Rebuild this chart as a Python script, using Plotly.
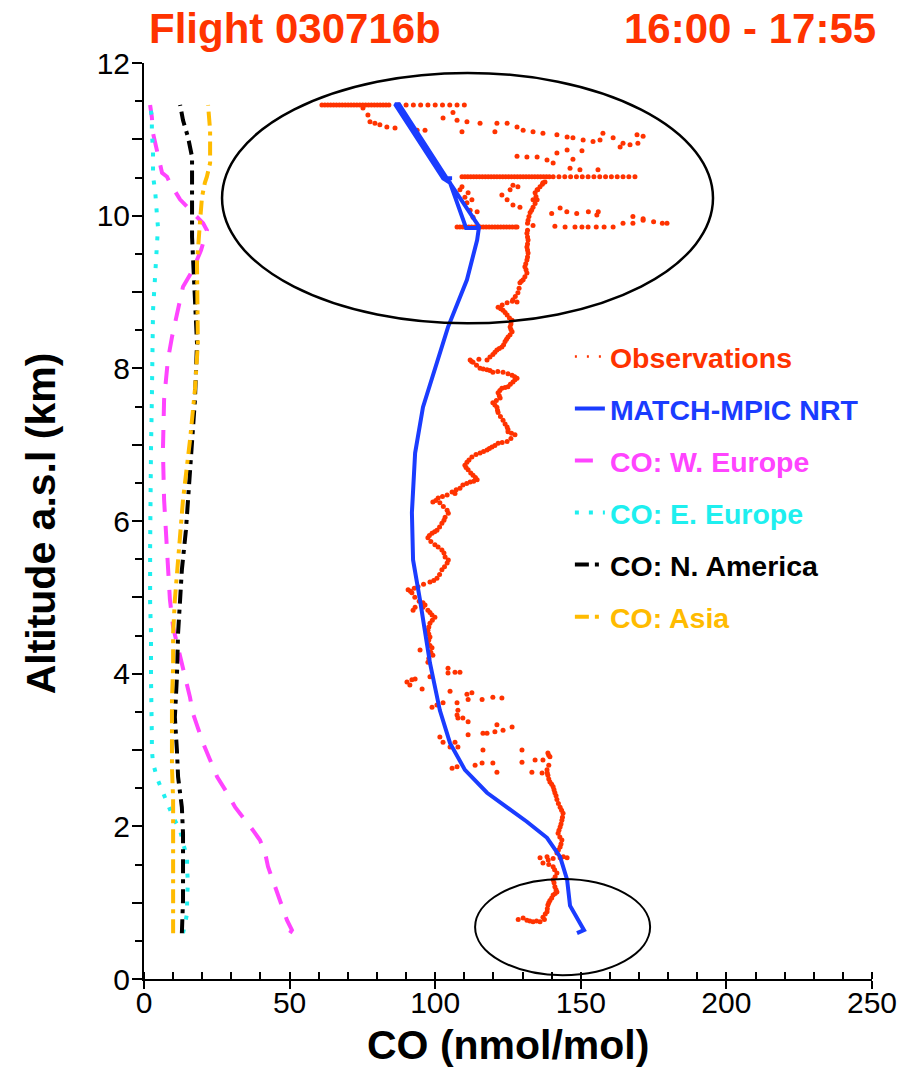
import plotly.graph_objects as go

# ---------------- data (CO in nmol/mol, altitude in km) ----------------
# observations
obs_low_co = [
    130.2, 131.5, 133.6, 136.0, 137.0, 138.4, 138.7, 139.4, 140.5, 141.8, 141.1, 140.5, 141.8, 140.5,
    137.0, 136.0, 138.4, 142.9, 145.3, 141.8, 142.9, 143.5, 142.2, 142.9, 143.5, 143.9, 142.9, 141.8,
    141.1, 140.5, 139.4, 138.7, 138.4, 139.4, 138.7, 137.0, 129.8, 129.8, 133.2, 136.7, 134.3,
    128.5, 132.5, 134.8, 137.5, 137.8, 138.5, 139.0, 140.0, 141.2, 141.5, 140.8, 141.2, 141.0,
    139.0, 138.8, 140.5, 144.0, 142.3, 143.2, 142.8, 142.5, 143.2, 143.7, 143.4, 142.3, 141.5,
    140.8, 140.0, 139.0, 138.5, 139.0, 139.0,
]
obs_low_alt = [
    0.80, 0.77, 0.75, 0.75, 0.81, 0.88, 0.97, 1.03, 1.10, 1.14, 1.21, 1.30, 1.39, 1.47,
    1.52, 1.59, 1.60, 1.59, 1.59, 1.65, 1.73, 1.82, 1.91, 1.99, 2.08, 2.17, 2.25, 2.35,
    2.44, 2.52, 2.58, 2.67, 2.74, 2.91, 2.96, 2.87, 3.00, 2.84, 2.71, 2.70, 2.87,
    0.78, 0.76, 0.76, 0.78, 0.85, 0.92, 1.00, 1.06, 1.12, 1.17, 1.26, 1.34, 1.43,
    1.50, 1.56, 1.58, 1.60, 1.69, 1.77, 1.86, 1.95, 2.03, 2.12, 2.21, 2.30, 2.40,
    2.48, 2.55, 2.62, 2.70, 2.80, 2.93,
]
obs_mid_co = [
    126.4, 123.3, 120.5, 117.8, 116.4, 111.3, 121.2, 119.8, 121.2, 116.1, 113.7, 105.8, 107.5,
    101.6, 102.7, 105.1, 107.8, 106.8, 116.4, 107.5, 107.8, 109.5, 111.3, 107.8, 107.5, 111.3,
    116.1, 119.8, 122.9, 112.6, 110.9, 105.1, 102.7, 100.6, 98.9, 95.5, 91.3, 90.3, 92.0, 93.1,
    98.2, 104.4, 106.8, 108.5, 104.4, 97.5, 99.2, 98.9, 94.8, 97.5, 98.2, 97.5, 98.2, 99.9, 98.9,
    97.5, 95.8, 93.1, 92.4, 95.8,
    97.8, 98.5, 98.2, 97.8, 97.8, 97.8, 99.0, 98.2, 96.5, 94.5, 93.0,
]
obs_mid_alt = [
    3.30, 3.26, 3.24, 3.22, 3.22, 3.20, 3.33, 2.83, 2.71, 2.83, 2.80, 2.76, 2.78,
    3.17, 3.10, 3.04, 3.04, 3.10, 3.00, 3.46, 3.42, 3.42, 3.37, 3.52, 3.62, 3.66,
    3.66, 3.69, 3.68, 3.75, 3.73, 3.77, 3.62, 3.59, 3.56, 3.80, 3.85, 3.89, 3.92, 3.93,
    3.96, 4.01, 4.02, 4.02, 4.07, 4.15, 4.24, 4.34, 4.31, 4.40, 4.48, 4.57, 4.66, 4.74, 4.77,
    4.83, 4.93, 4.87, 4.83, 4.87,
    4.20, 4.28, 4.37, 4.44, 4.52, 4.61, 4.70, 4.80, 4.90, 4.95, 5.00,
]
obs_up_co = [
    92.0, 90.7, 94.1, 98.2, 100.6, 102.3, 104.1, 103.4, 102.3, 99.9, 97.5, 98.9, 100.6, 102.3,
    103.4, 104.1, 101.6, 99.2, 101.0, 104.1, 105.8, 108.5, 109.5, 112.0, 114.4, 113.0, 111.3,
    110.2, 110.9, 112.6, 115.4, 117.8, 119.5, 121.6, 124.7, 127.4, 125.0, 124.7, 123.3, 121.6,
    121.2, 119.8, 122.3, 121.6, 122.9, 125.0, 126.7, 128.1, 126.4, 123.3, 119.8, 117.8, 115.4,
    113.0, 112.0, 117.8, 119.8, 121.2, 122.9, 124.0, 125.0, 126.4, 125.7, 126.4, 124.7, 123.3,
    121.6, 124.7, 128.1,
    126.7, 128.4, 129.1, 130.2, 131.5, 130.8, 131.5, 131.9, 131.5, 131.9, 131.5, 131.9, 132.6,
    133.6, 135.0, 134.3, 136.0, 137.7,
    91.5, 92.8, 96.0, 99.5, 101.5, 103.2, 104.5, 103.0, 101.0, 98.5, 98.0, 99.8, 101.5, 103.0,
    104.5, 102.8, 100.2, 102.5, 106.8, 107.2, 110.8, 113.2, 113.8, 112.2, 110.6, 111.6, 114.0,
    116.6, 118.6, 120.5, 123.0, 126.0, 126.2, 125.0, 124.0, 122.4, 121.4, 120.5, 121.0, 122.0,
    122.2, 124.0, 125.8, 127.4, 127.3, 125.0, 121.5, 118.8, 116.5, 114.2, 112.5, 115.0, 118.8,
    120.5, 122.0, 123.5, 124.5, 125.7, 126.0, 126.0, 125.5, 124.0, 122.5, 123.0, 126.5, 127.5,
    128.8, 129.6, 130.8, 131.2, 131.1, 131.7, 131.7, 131.7, 131.7, 131.7, 131.7, 132.2, 133.1,
    134.3, 134.6, 135.2, 136.8,
]
obs_up_alt = [
    5.06, 5.10, 5.14, 5.20, 5.25, 5.36, 5.45, 5.53, 5.62, 5.69, 5.78, 5.84, 5.88, 5.97,
    6.05, 6.14, 6.24, 6.25, 6.30, 6.34, 6.38, 6.43, 6.47, 6.51, 6.54, 6.60, 6.67,
    6.73, 6.77, 6.84, 6.89, 6.93, 6.97, 7.02, 7.04, 7.13, 7.17, 7.23, 7.32, 7.42,
    7.49, 7.55, 7.61, 7.68, 7.74, 7.76, 7.82, 7.87, 7.91, 7.95, 7.95, 7.98, 8.00,
    8.08, 8.11, 8.11, 8.18, 8.24, 8.28, 8.35, 8.41, 8.48, 8.54, 8.63, 8.70, 8.76,
    8.80, 8.86, 8.87,
    8.90, 8.99, 9.12, 9.16, 9.25, 9.33, 9.42, 9.51, 9.59, 9.68, 9.77, 9.94, 10.04,
    10.11, 10.21, 10.30, 10.38, 10.44,
    5.08, 5.12, 5.17, 5.22, 5.30, 5.40, 5.49, 5.58, 5.66, 5.73, 5.81, 5.86, 5.92, 6.01,
    6.10, 6.19, 6.27, 6.32, 6.36, 6.41, 6.49, 6.52, 6.57, 6.63, 6.70, 6.80, 6.87,
    6.91, 6.95, 6.99, 7.03, 7.08, 7.15, 7.20, 7.27, 7.37, 7.45, 7.52, 7.58, 7.64,
    7.71, 7.75, 7.79, 7.85, 7.89, 7.93, 7.96, 7.97, 7.99, 8.04, 8.09, 8.12, 8.15,
    8.21, 8.26, 8.31, 8.38, 8.44, 8.51, 8.58, 8.66, 8.73, 8.78, 8.83, 8.88, 8.94,
    9.05, 9.14, 9.20, 9.29, 9.37, 9.46, 9.55, 9.63, 9.72, 9.81, 9.90, 9.99, 10.07,
    10.16, 10.25, 10.34, 10.41,
]
# upper-troposphere legs
obs_leg_co = [
    107.5, 108.5, 109.5, 110.5, 111.5, 112.5, 113.5, 114.5, 115.5, 116.5, 117.5, 118.5, 119.5,
    120.5, 121.5, 122.5, 123.5, 124.5, 125.5, 126.5, 127.5, 128.1,
    133.6, 141.1, 144.6, 148.0, 150.4, 152.5, 155.3, 158.0, 161.1, 164.5, 167.9, 171.4, 175.0,
    178.0, 179.6, 167.9, 171.4,
    140.0, 142.9, 145.2, 148.6, 152.6, 155.5, 156.0,
    108.5, 110.2, 110.9, 112.0, 113.0, 114.4, 112.6, 111.3, 109.2,
    122.9, 124.7, 126.7, 129.1, 125.7, 126.7, 128.4, 133.6, 135.0, 137.0,
    109.2, 110.2, 111.2, 112.2, 113.2, 114.2, 115.2, 116.2, 117.2, 118.2, 119.2, 120.2, 121.2,
    122.2, 123.2, 124.2, 125.2, 126.2, 127.2, 128.2, 129.2, 130.2, 131.2, 132.2, 133.2, 134.2,
    135.2, 136.2, 137.2, 138.2, 139.2, 140.5,
    142.5, 144.5, 146.5, 148.5, 150.5, 152.5, 154.5, 156.5, 158.5, 160.5, 162.5, 164.5, 166.5,
    168.6,
    128.1, 131.5, 135.0, 138.4, 140.5, 141.8, 145.3, 147.3, 150.4, 146.3, 149.7, 155.9,
    102.7, 106.1, 107.5, 110.9, 115.4, 121.2, 124.7, 128.1, 130.2, 133.6, 137.0, 141.8, 145.3,
    147.3, 150.8, 154.2, 156.6, 157.6, 161.1, 164.5, 166.9, 169.6, 169.3, 171.4, 163.5, 120.5,
    109.2,
    61.1, 62.1, 63.1, 64.1, 65.1, 66.1, 67.1, 68.1, 69.1, 70.1, 71.1, 72.1, 73.1, 74.1, 75.1,
    76.1, 77.1, 78.1, 79.1, 80.1, 81.1, 82.1, 83.1, 84.1,
    87.5, 90.0, 92.5, 95.0, 97.5, 100.0, 102.5, 105.0, 107.5, 110.0,
    75.2, 76.9, 77.6, 79.3, 81.0, 83.4, 86.2, 93.8, 96.5,
]
obs_leg_alt = [
    9.85, 9.85, 9.85, 9.85, 9.85, 9.85, 9.85, 9.85, 9.85, 9.85, 9.85, 9.85, 9.85,
    9.85, 9.85, 9.85, 9.85, 9.85, 9.85, 9.85, 9.85, 9.85,
    9.87, 9.86, 9.85, 9.85, 9.85, 9.85, 9.85, 9.85, 9.85, 9.90, 9.90, 9.94, 9.92,
    9.90, 9.90, 9.99, 9.96,
    10.03, 10.10, 10.05, 10.03, 10.05, 10.01, 10.05,
    10.34, 10.24, 10.17, 10.07, 9.98, 10.05, 10.21, 10.30, 10.38,
    10.27, 10.21, 10.14, 10.11, 10.34, 10.40, 10.38, 10.21, 10.34, 10.43,
    10.51, 10.51, 10.51, 10.51, 10.51, 10.51, 10.51, 10.51, 10.51, 10.51, 10.51, 10.51, 10.51,
    10.51, 10.51, 10.51, 10.51, 10.51, 10.51, 10.51, 10.51, 10.51, 10.51, 10.51, 10.51, 10.51,
    10.51, 10.51, 10.51, 10.51, 10.51, 10.51,
    10.51, 10.51, 10.51, 10.51, 10.51, 10.51, 10.51, 10.51, 10.51, 10.51, 10.51, 10.51, 10.51,
    10.51,
    10.78, 10.77, 10.77, 10.73, 10.69, 10.82, 10.86, 10.74, 10.85, 10.62, 10.60, 10.60,
    11.28, 11.35, 11.25, 11.23, 11.21, 11.21, 11.21, 11.16, 11.12, 11.10, 11.08, 11.06, 11.03,
    11.02, 10.99, 10.97, 10.99, 11.08, 11.02, 10.95, 10.93, 10.95, 11.06, 11.04, 10.90, 11.10,
    11.10,
    11.45, 11.45, 11.45, 11.45, 11.45, 11.45, 11.45, 11.45, 11.45, 11.45, 11.45, 11.45, 11.45,
    11.45, 11.45, 11.45, 11.45, 11.45, 11.45, 11.45, 11.45, 11.45, 11.45, 11.45,
    11.45, 11.45, 11.45, 11.45, 11.45, 11.45, 11.45, 11.45, 11.45, 11.45,
    11.41, 11.32, 11.23, 11.21, 11.19, 11.16, 11.15, 11.12, 11.12,
]

model_co = [148.7, 151.1, 146.3, 145.3, 142.9, 138.4, 131.5, 124.7, 117.8, 110.2, 105.1, 101.6,
            98.2, 94.8, 92.4, 92.0, 93.1, 95.8, 101.6, 104.4, 110.9, 114.4, 115.0,
            110.6, 105.1, 102.7, 105.8, 102.7, 86.2, 87.6, 104.0, 115.0]
model_alt = [0.60, 0.64, 0.96, 1.30, 1.60, 1.85, 2.06, 2.25, 2.44, 2.74, 3.09, 3.52,
             4.14, 4.96, 5.49, 6.11, 6.89, 7.49, 8.20, 8.54, 9.16, 9.68, 9.84,
             9.84, 10.43, 10.49, 10.49, 10.49, 11.46, 11.46, 10.49, 9.86]

weu_co = [50.1, 50.8, 49.1, 45.7, 44.0, 42.6, 41.6, 39.8, 37.4, 34.7, 31.3, 28.5, 25.1, 22.7,
          20.3, 18.5, 16.8, 15.8, 14.1, 13.0, 11.3, 10.0, 8.9, 7.9, 6.9, 6.5, 6.9, 8.2, 9.6,
          13.4, 16.8, 19.6, 20.3, 21.6, 20.3, 15.1, 12.4, 8.9, 7.9, 6.2, 4.5, 3.8, 3.1, 2.7, 2.1]
weu_alt = [0.60, 0.64, 0.77, 1.13, 1.30, 1.47, 1.65, 1.82, 1.95, 2.08, 2.25, 2.44, 2.65, 2.87,
           3.09, 3.29, 3.48, 3.69, 3.94, 4.14, 4.40, 4.61, 4.97, 5.62, 6.28, 6.93, 7.59, 8.11, 8.41,
           9.07, 9.29, 9.55, 9.64, 9.81, 9.90, 10.11, 10.21, 10.43, 10.51, 10.56, 10.82, 10.95,
           11.08, 11.29, 11.45]

eeu_co = [13.4, 14.1, 14.8, 14.8, 15.1, 14.8, 14.8, 13.4, 12.4, 10.0, 7.9, 6.2, 4.5, 3.1, 2.7,
          2.7, 2.4, 2.4, 2.4, 2.1, 2.1, 2.1, 2.4, 2.7, 3.1, 3.1, 3.8, 4.5, 4.8, 4.5, 3.8, 3.1,
          3.1, 2.7, 2.7, 2.1]
eeu_alt = [0.60, 0.71, 0.86, 1.07, 1.26, 1.43, 1.60, 1.78, 1.95, 2.12, 2.31, 2.45, 2.63, 2.83,
           3.00, 3.17, 3.56, 3.96, 4.53, 4.93, 5.62, 6.28, 6.93, 7.59, 8.28, 8.76, 9.20, 9.55,
           9.85, 9.98, 10.34, 10.51, 10.86, 11.08, 11.29, 11.45]

nam_co = [13.0, 13.4, 13.4, 13.4, 13.0, 11.7, 11.3, 10.6, 11.3, 11.7, 12.4, 13.0, 14.4, 15.8,
          17.5, 18.2, 17.5, 16.8, 16.5, 16.5, 16.5, 15.1, 13.4, 12.4]
nam_alt = [0.60, 1.03, 1.47, 1.91, 2.25, 2.65, 3.00, 3.43, 3.96, 4.53, 4.97, 5.36, 5.88, 6.67,
           7.59, 8.33, 8.90, 9.33, 9.72, 10.24, 10.77, 11.03, 11.25, 11.45]

asia_co = [10.0, 10.0, 10.0, 10.0, 10.0, 9.6, 9.6, 9.6, 10.0, 10.0, 10.6, 11.7, 13.4, 15.8,
           17.5, 18.5, 18.5, 18.2, 19.2, 19.9, 20.9, 21.6, 22.7, 22.7, 22.0]
asia_alt = [0.60, 1.03, 1.47, 1.91, 2.35, 2.78, 3.22, 3.66, 4.09, 4.53, 4.97, 5.49, 6.28, 7.06,
            7.72, 8.33, 9.03, 9.38, 9.90, 10.24, 10.43, 10.51, 10.69, 11.12, 11.45]

series_names = ["Observations", "MATCH-MPIC NRT", "CO: W. Europe", "CO: E. Europe",
                "CO: N. America", "CO: Asia"]
x_tickvals = [0, 50, 100, 150, 200, 250]
y_tickvals = list(range(0, 13))
y_ticktext = [str(v) if v % 2 == 0 else "" for v in y_tickvals]

obs_co = obs_low_co + obs_mid_co + obs_up_co + obs_leg_co
obs_alt = obs_low_alt + obs_mid_alt + obs_up_alt + obs_leg_alt

# ---------------- styling ----------------
FONT = "Liberation Sans, Arial, Helvetica, sans-serif"
RED = "#FF3300"
BLUE = "#1A3CFF"
MAGENTA = "#FF44FF"
CYAN = "#1EEFEF"
BLACK = "#000000"
ORANGE = "#FFBB00"


def lbl(text, color):
    return "<span style='color:%s'>%s</span>" % (color, text)


fig = go.Figure()

fig.add_trace(go.Scatter(x=weu_co, y=weu_alt, mode="lines", name=lbl(series_names[2], MAGENTA),
                         line=dict(color=MAGENTA, width=4, dash="18px,14px"),
                         legendrank=3, legendgroup="g3"))
fig.add_trace(go.Scatter(x=eeu_co, y=eeu_alt, mode="lines", name=lbl(series_names[3], CYAN),
                         line=dict(color=CYAN, width=4, dash="4px,10px"),
                         legendrank=4, legendgroup="g4"))
fig.add_trace(go.Scatter(x=nam_co, y=nam_alt, mode="lines", name=lbl(series_names[4], BLACK),
                         line=dict(color=BLACK, width=4, dash="14px,6px,4px,6px"),
                         legendrank=5, legendgroup="g5"))
fig.add_trace(go.Scatter(x=asia_co, y=asia_alt, mode="lines", name=lbl(series_names[5], ORANGE),
                         line=dict(color=ORANGE, width=4, dash="14px,6px,4px,6px"),
                         legendrank=6, legendgroup="g6"))

fig.add_trace(go.Scatter(x=obs_co, y=obs_alt, mode="markers", showlegend=False,
                         marker=dict(color=RED, size=5, line=dict(width=0)),
                         legendgroup="g1"))
fig.add_trace(go.Scatter(x=[None], y=[None], mode="lines", name=lbl(series_names[0], RED),
                         line=dict(color=RED, width=2.5, dash="2px,10px"),
                         legendrank=1, legendgroup="g1"))

fig.add_trace(go.Scatter(x=model_co, y=model_alt, mode="lines", name=lbl(series_names[1], BLUE),
                         line=dict(color=BLUE, width=4),
                         legendrank=2, legendgroup="g2"))

axis_common = dict(showgrid=False, zeroline=False, linecolor="black", linewidth=2,
                   tickcolor="black", tickwidth=2, fixedrange=True)
tick_only = {k: v for k, v in axis_common.items() if k not in ("linecolor", "linewidth")}

fig.update_layout(
    width=924, height=1070,
    margin=dict(l=144, r=52, t=63, b=91),
    paper_bgcolor="white", plot_bgcolor="white",
    font=dict(family=FONT, size=30, color="black"),
    showlegend=True,
    legend=dict(x=0.585, y=0.707, xanchor="left", yanchor="top",
                bgcolor="rgba(0,0,0,0)", borderwidth=0,
                font=dict(family=FONT, size=28.5, weight="bold"),
                tracegroupgap=12, itemwidth=30),
    xaxis=dict(range=[0, 250], tickmode="array", tickvals=x_tickvals,
               ticks="outside", ticklen=8, tickfont=dict(size=30), ticklabelstandoff=-12,
               minor=dict(dtick=10, ticks="inside", ticklen=7, tickwidth=2, tickcolor="black"),
               mirror=False, **axis_common),
    xaxis2=dict(range=[0, 250], overlaying="x", anchor="y", side="bottom",
                tickmode="array", tickvals=x_tickvals, ticks="inside", ticklen=9,
                showticklabels=False, showline=False, **tick_only),
    xaxis3=dict(range=[0, 250], overlaying="x", anchor="y", side="top",
                tickmode="array", tickvals=x_tickvals, ticks="outside", ticklen=9,
                showticklabels=False, showline=True,
                minor=dict(dtick=10, ticks="outside", ticklen=7, tickwidth=2, tickcolor="black"),
                **axis_common),
    yaxis=dict(range=[0, 12], tickmode="array", tickvals=y_tickvals, ticktext=y_ticktext,
               ticks="outside", ticklen=10, tickfont=dict(size=30), ticklabelstandoff=-4,
               minor=dict(tickmode="array", tickvals=[v + 0.5 for v in range(12)],
                          ticks="outside", ticklen=7, tickwidth=2, tickcolor="black"),
               **axis_common),
    yaxis2=dict(range=[0, 12], overlaying="y", anchor="x", side="left",
                tickmode="array", tickvals=y_tickvals, ticks="inside", ticklen=7,
                showticklabels=False, showline=False, **tick_only),
    yaxis3=dict(range=[0, 12], overlaying="y", anchor="x", side="right",
                tickmode="array", tickvals=y_tickvals, ticks="outside", ticklen=9,
                showticklabels=False, showline=True,
                minor=dict(tickmode="array", tickvals=[v + 0.5 for v in range(12)],
                           ticks="outside", ticklen=6, tickwidth=2, tickcolor="black"),
                **axis_common),
)

fig.add_shape(type="circle", xref="x", yref="y", x0=26.8, x1=195.4, y0=8.59, y1=11.87,
              line=dict(color="black", width=2.5), layer="above")
fig.add_shape(type="circle", xref="x", yref="y", x0=113.7, x1=173.8, y0=0.05, y1=1.31,
              line=dict(color="black", width=2), layer="above")

fig.add_annotation(text="<b>Flight 030716b</b>", xref="paper", yref="paper", x=0.004, y=1.038,
                   xanchor="left", yanchor="middle", showarrow=False,
                   font=dict(family=FONT, size=42, color=RED))
fig.add_annotation(text="<b>16:00 - 17:55</b>", xref="paper", yref="paper", x=1.008, y=1.038,
                   xanchor="right", yanchor="middle", showarrow=False,
                   font=dict(family=FONT, size=42, color=RED))
fig.add_annotation(text="<b>CO (nmol/mol)</b>", xref="paper", yref="paper", x=0.5, y=-0.072,
                   xanchor="center", yanchor="middle", showarrow=False,
                   font=dict(family=FONT, size=41, color="black"))
fig.add_annotation(text="<b>Altitude a.s.l (km)</b>", xref="paper", yref="paper", x=-0.142,
                   y=0.497, xanchor="center", yanchor="middle", showarrow=False, textangle=-90,
                   font=dict(family=FONT, size=41, color="black"))

fig.write_html("out.html")
